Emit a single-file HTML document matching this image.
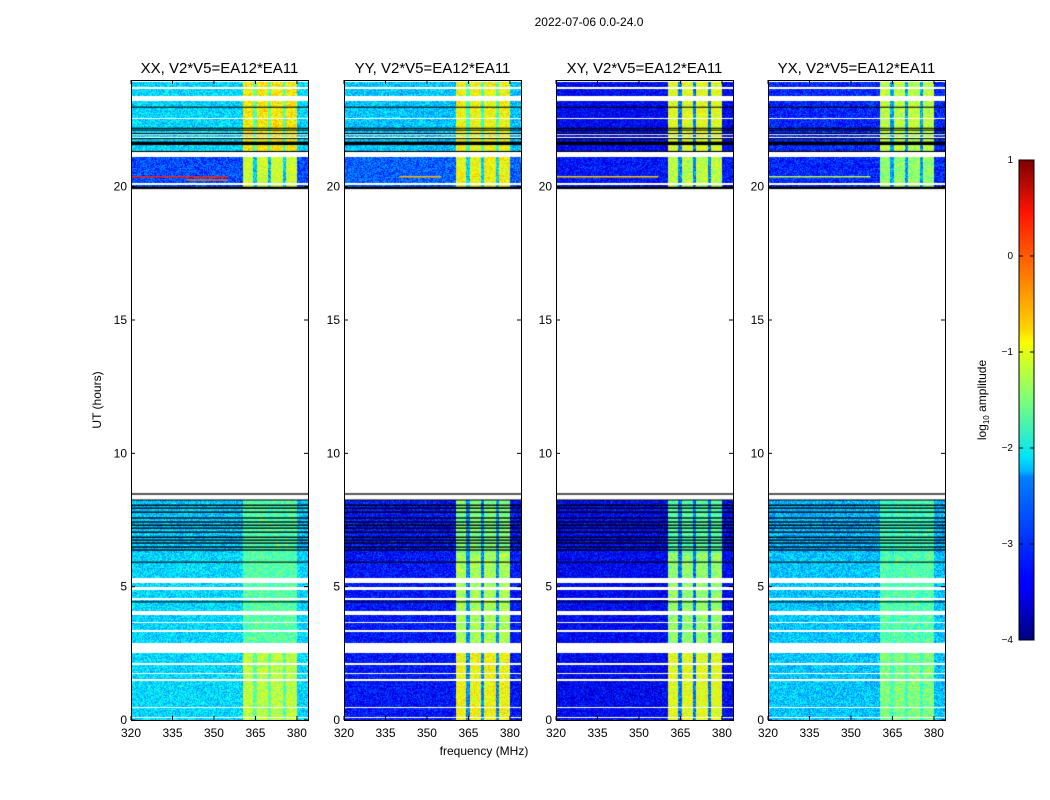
<!DOCTYPE html>
<html><head><meta charset="utf-8">
<style>
body{margin:0;background:#fff;width:1050px;height:800px;overflow:hidden;position:relative;font-family:"Liberation Sans",sans-serif}
canvas{position:absolute}
svg{position:absolute;left:0;top:0}
text{font-family:"Liberation Sans",sans-serif;fill:#000}
</style></head>
<body>
<canvas id="c0" width="177" height="640" style="left:131px;top:80px"></canvas>
<canvas id="c1" width="177" height="640" style="left:344px;top:80px"></canvas>
<canvas id="c2" width="177" height="640" style="left:556px;top:80px"></canvas>
<canvas id="c3" width="177" height="640" style="left:768px;top:80px"></canvas>
<svg id="svg" width="1050" height="800">
<defs><linearGradient id="jet" x1="0" y1="1" x2="0" y2="0">
<stop offset="0" stop-color="#00007f"/><stop offset="0.11" stop-color="#0000ff"/><stop offset="0.125" stop-color="#0000ff"/>
<stop offset="0.34" stop-color="#0080ff"/><stop offset="0.35" stop-color="#00b0ff"/><stop offset="0.38" stop-color="#00e4f8"/>
<stop offset="0.5" stop-color="#7cff79"/><stop offset="0.62" stop-color="#f9ff00"/><stop offset="0.65" stop-color="#ffd200"/>
<stop offset="0.89" stop-color="#ff1400"/><stop offset="1" stop-color="#7f0000"/></linearGradient></defs>
<text x="589" y="26" font-size="12" text-anchor="middle">2022-07-06 0.0-24.0</text>
<text x="484" y="755" font-size="12" text-anchor="middle">frequency (MHz)</text>
<text x="101" y="400" font-size="12" text-anchor="middle" transform="rotate(-90 101 400)">UT (hours)</text>
<text x="986" y="400" font-size="12" text-anchor="middle" transform="rotate(-90 986 400)">log<tspan font-size="8" dy="3">10</tspan><tspan dy="-3"> amplitude</tspan></text>
<rect x="1019" y="160" width="15" height="480" fill="url(#jet)" stroke="#000" stroke-width="1"/>
<g id="axes"></g>
</svg>
<script>
const panelNames=['XX, V2*V5=EA12*EA11','YY, V2*V5=EA12*EA11','XY, V2*V5=EA12*EA11','YX, V2*V5=EA12*EA11'];
const xTicks=[320,335,350,365,380];
const yTicks=[0,5,10,15,20];
const cbTicks=[1,0,-1,-2,-3,-4];
const cbLabels=['1','0','\u22121','\u22122','\u22123','\u22124'];
const dataRanges=[[0,8.25],[20,23.94]];
const zoneStarts=[0,2.5,6.25,20,21.3];
const bgXX=[-2.3,-2.3,-2.4,-3.0,-2.3];
const bgYY=[-3.3,-3.3,-3.3,-2.9,-2.4];
const bgXY=[-3.4,-3.4,-3.4,-3.3,-3.4];
const bgYX=[-2.4,-2.4,-2.5,-3.2,-3.2];
const bandXX=[-1.2,-1.7,-1.7,-1.1,-0.8];
const bandYY=[-0.9,-1.3,-1.5,-0.9,-0.9];
const bandXY=[-1.0,-1.4,-1.7,-1.2,-1.0];
const bandYX=[-1.5,-1.7,-1.8,-1.4,-1.2];
const bands=[[360.5,364.2],[365.6,369.5],[370.6,375.0],[376.1,380.0]];
const whiteSegs=[[8.25,8.47],[5.14,5.325],[4.875,4.99],[4.5,4.575],[3.94,4.09],[3.77,3.8],[3.64,3.68],[3.3,3.375],[2.51,2.89],[2.06,2.14],[1.73,1.76],[1.46,1.54],[0.45,0.49],[0.075,0.11],
 [23.67,23.72],[23.21,23.41],[22.53,22.59],[21.92,21.96],[21.84,21.86],[21.12,21.29],[20.06,20.12],[23.94,24]];
const blackSegs=[[8.45,8.5],[8.23,8.27],[8.03,8.08],[7.92,7.97],[7.77,7.82],[7.55,7.6],[7.4,7.45],[7.28,7.33],[7.17,7.22],[7.02,7.07],[6.83,6.88],[6.72,6.77],[6.61,6.66],[6.46,6.51],[6.35,6.4],[5.9,5.94],[4.41,4.45],
 [22.96,23.0],[22.17,22.21],[22.1,22.14],[21.97,22.01],[21.79,21.82],[21.56,21.69],[21.3,21.34],[19.91,20.0]];
const rfiPanel=[0,0,1,2,3];
const rfiHour=[20.4,20.28,20.4,20.4,20.4];
const rfiF0=[320,340,340,320,320];
const rfiF1=[355,355,355,357,357];
const rfiLevel=[0.2,-0.2,-0.5,-0.6,-1.2];

const bgAll=[bgXX,bgYY,bgXY,bgYX], bandAll=[bandXX,bandYY,bandXY,bandYX];
const lefts=[131,344,556,768], TOP=80, W=177, H=640, F0=320, F1=384;
const xS=(p,f)=>lefts[p]+(f-F0)/(F1-F0)*W;
const yS=h=>720-h*H/24;
function jet(t){t=Math.max(0,Math.min(1,t));
 const r=Math.max(0,Math.min(1,1.5-Math.abs(4*t-3)));
 const g=Math.max(0,Math.min(1,1.5-Math.abs(4*t-2)));
 const b=Math.max(0,Math.min(1,1.5-Math.abs(4*t-1)));
 return [r*255|0,g*255|0,b*255|0];}
function tex(x,y,p){let n=(x*374761393+y*668265263+p*2246822519)|0;n=(n^(n>>>13))*1274126177|0;return ((n>>>0)%1000)/1000-0.5;}
function zoneOf(h){let z=0;for(let i=0;i<zoneStarts.length;i++)if(h>=zoneStarts[i])z=i;return z;}
for(let p=0;p<4;p++){
 const cv=document.getElementById('c'+p),ctx=cv.getContext('2d');
 const img=ctx.createImageData(W,H);
 for(let py=0;py<H;py++){
  const h=24-(py+0.5)/H*24;
  if(!dataRanges.some(r=>h>=r[0]&&h<r[1]))continue;
  if(whiteSegs.some(s=>h>=s[0]&&h<s[1]))continue;
  const z=zoneOf(h);
  for(let px=0;px<W;px++){
   const f=F0+(px+0.5)/W*(F1-F0);
   let v=bgAll[p][z];
   if(f>=bands[0][0]&&f<bands[3][1]){
    const inb=bands.some(b=>f>=b[0]&&f<b[1]);
    v=inb?bandAll[p][z]:bgAll[p][z]+0.6;
   }
   v+=tex(px,py,p)*0.8;
   const c=jet((v+4)/5),i=(py*W+px)*4;
   img.data[i]=c[0];img.data[i+1]=c[1];img.data[i+2]=c[2];img.data[i+3]=255;
  }
 }
 ctx.putImageData(img,0,0);
 for(let k=0;k<rfiPanel.length;k++){ if(rfiPanel[k]!==p)continue;
  const c=jet((rfiLevel[k]+4)/5);ctx.fillStyle=`rgb(${c})`;
  ctx.fillRect(xS(p,rfiF0[k])-lefts[p],yS(rfiHour[k])-TOP,(rfiF1[k]-rfiF0[k])/(F1-F0)*W,1.5);}
 ctx.fillStyle='#000';
 blackSegs.forEach(s=>{const y0=yS(s[1])-TOP,y1=yS(s[0])-TOP;ctx.fillRect(0,y0,W,Math.max(1,y1-y0));});
}
const NS='http://www.w3.org/2000/svg',g=document.getElementById('axes');
function mk(tag,a,txt){const e=document.createElementNS(NS,tag);for(const k in a)e.setAttribute(k,a[k]);if(txt!==undefined)e.textContent=txt;g.appendChild(e);return e;}
for(let p=0;p<4;p++){
 const L=lefts[p];
 const fr=mk('rect',{x:L+0.5,y:TOP+0.5,width:W,height:H,fill:'none',stroke:'#000'});
 
 
 const t=mk('text',{x:L+W/2,y:TOP-7,'font-size':15,'text-anchor':'middle'},panelNames[p]);
 
 
 xTicks.forEach(f=>{const x=xS(p,f);
  mk('line',{x1:x,x2:x,y1:720,y2:716,stroke:'#000'});mk('line',{x1:x,x2:x,y1:80,y2:84,stroke:'#000'});
  const l=mk('text',{x:x,y:737,'font-size':12,'text-anchor':'middle'},String(f));
  
  });
 yTicks.forEach(h=>{const y=yS(h);
  mk('line',{x1:L,x2:L+4,y1:y,y2:y,stroke:'#000'});mk('line',{x1:L+W,x2:L+W-4,y1:y,y2:y,stroke:'#000'});
  const l=mk('text',{x:L-4,y:y+4,'font-size':12,'text-anchor':'end'},String(h));
  
  });
}
cbTicks.forEach((v,i)=>{const y=640-(v+4)/5*480;
 mk('line',{x1:1019,x2:1023,y1:y,y2:y,stroke:'#000'});mk('line',{x1:1034,x2:1030,y1:y,y2:y,stroke:'#000'});
 const l=mk('text',{x:1013,y:y+3,'font-size':10,'text-anchor':'end'},cbLabels[i]);
 
 });
</script>
</body></html>
